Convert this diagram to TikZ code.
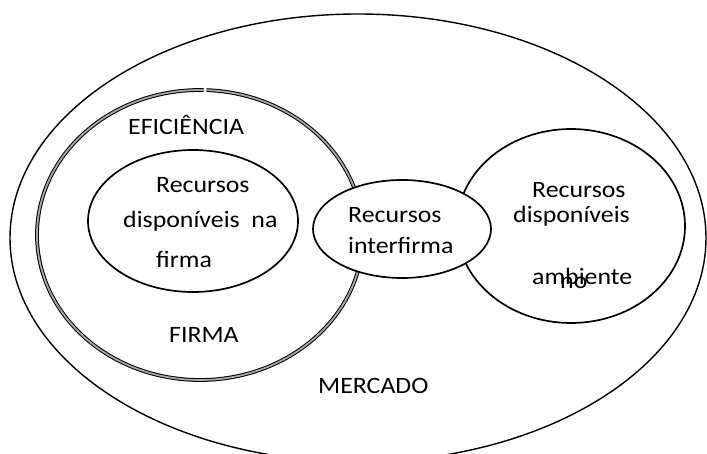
\documentclass[tikz,border=0pt]{standalone}
\usepackage{fontspec}
\setmainfont{Carlito}[FakeStretch=1.1]
\begin{document}
\begin{tikzpicture}[x=1pt,y=-1pt,
  lbl/.style={anchor=base west,inner sep=0pt,font=\fontsize{23.5pt}{28pt}\selectfont},
  ring/.style={line width=1.7pt}]
\useasboundingbox (0,0) rectangle (707,454);
\clip (0,0) rectangle (707,454);
% mercado
\draw[line width=1.4pt] (358,238) ellipse [x radius=348, y radius=224];
% firma (double line with small gap at top)
\draw[line width=1pt, double=gray!70, double distance=1.8pt]
  (200,235) ++(-87.7:163 and 145) arc[start angle=-87.7, end angle=271.3, x radius=163, y radius=145];
% recursos na firma
\draw[ring] (193,221) ellipse [x radius=105, y radius=71];
% recursos no ambiente
\draw[ring] (571,226) ellipse [x radius=114, y radius=97];
% interfirma
\draw[ring, fill=white] (402,229) ellipse [x radius=89, y radius=49];
% texts
\node[lbl] (efi) at (128,135) {EFICIÊNCIA};
\node[lbl] (r1a) at (156,193) {Recursos};
\node[lbl] (r1b) at (123,228) {disponíveis\ \ na};
\node[lbl] (r1c) at (156,268) {firma};
\node[lbl] (firma) at (169,342) {FIRMA};
\node[lbl] (merc) at (318,393) {MERCADO};
\node[lbl] (r2a) at (348,223) {Recursos};
\node[lbl] (r2b) at (348,254) {interfirma};
\node[lbl] (r3a) at (532,198) {Recursos};
\node[lbl] (r3b) at (513,223) {disponíveis};
\node[lbl] (r3c) at (532,285) {ambiente};
\node[lbl] (r3d) at (560,289) {no};
\end{tikzpicture}
\end{document}
